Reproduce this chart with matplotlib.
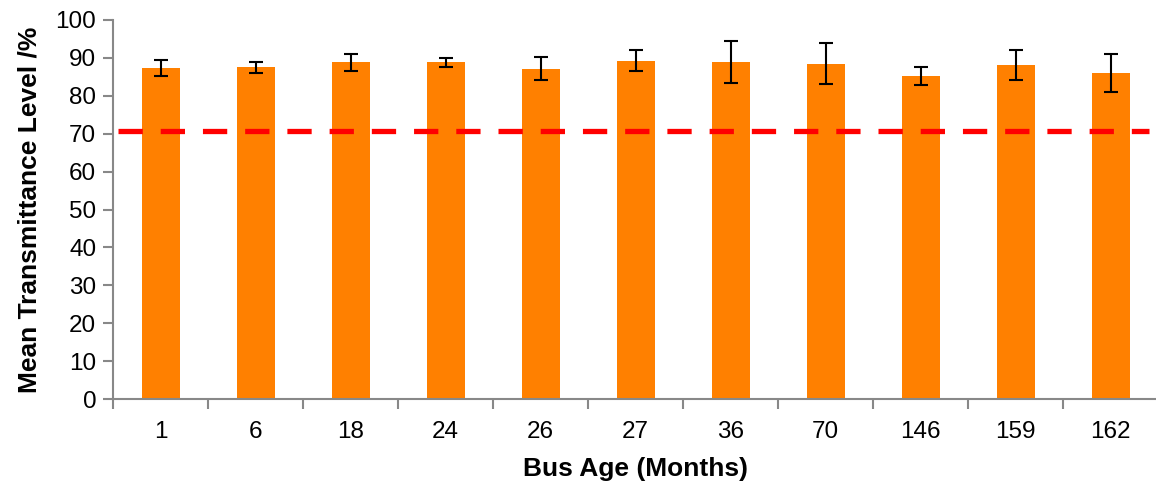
import numpy as np
import matplotlib.pyplot as plt

plt.rcParams['font.family'] = ['Liberation Sans', 'DejaVu Sans']

# data
bus_age = ["1", "6", "18", "24", "26", "27", "36", "70", "146", "159", "162"]
mean_transmittance = [87.4, 87.5, 88.8, 88.9, 87.2, 89.3, 88.9, 88.5, 85.3, 88.1, 86.1]
error = [2.1, 1.4, 2.3, 1.2, 3.1, 2.75, 5.5, 5.3, 2.35, 3.9, 5.0]
legal_limit = 70.8

fig = plt.figure(figsize=(11.56, 4.84), dpi=100)
ax = fig.add_axes([113 / 1156, 1 - 399 / 484, 1045 / 1156, 379 / 484])

x = np.arange(len(bus_age))
ax.bar(x, mean_transmittance, width=0.4, color="#FF8000", zorder=2)
ax.errorbar(x, mean_transmittance, yerr=error, fmt="none", ecolor="black",
            elinewidth=1.5, capsize=5, capthick=1.5, zorder=3)
ax.plot([-0.45, len(bus_age) - 0.6], [legal_limit, legal_limit], color="#FF0000",
        lw=3.8, dashes=(4.6, 3.4), zorder=4)

ax.set_xlim(-0.5, len(bus_age) - 0.5)
ax.set_ylim(0, 100)
ax.set_yticks(range(0, 101, 10))
ax.set_xticks(x)
ax.set_xticklabels(bus_age)
ax.set_xticks(np.arange(-0.5, len(bus_age), 1), minor=True)

for side in ["top", "right"]:
    ax.spines[side].set_visible(False)
for side in ["left", "bottom"]:
    ax.spines[side].set_color("#888888")
    ax.spines[side].set_linewidth(1.5)

ax.tick_params(axis="y", direction="out", length=7, width=1.5, color="#888888",
               labelsize=17.5, pad=5)
ax.tick_params(axis="x", which="major", length=0, labelsize=17.5, pad=16)
ax.tick_params(axis="x", which="minor", direction="out", length=7, width=1.5,
               color="#888888")

ax.set_ylabel("Mean Transmittance Level /%", fontsize=19, fontweight="bold", labelpad=10)
ax.set_xlabel("Bus Age (Months)", fontsize=19, fontweight="bold", labelpad=10)

fig.savefig("out.png", dpi=100)
